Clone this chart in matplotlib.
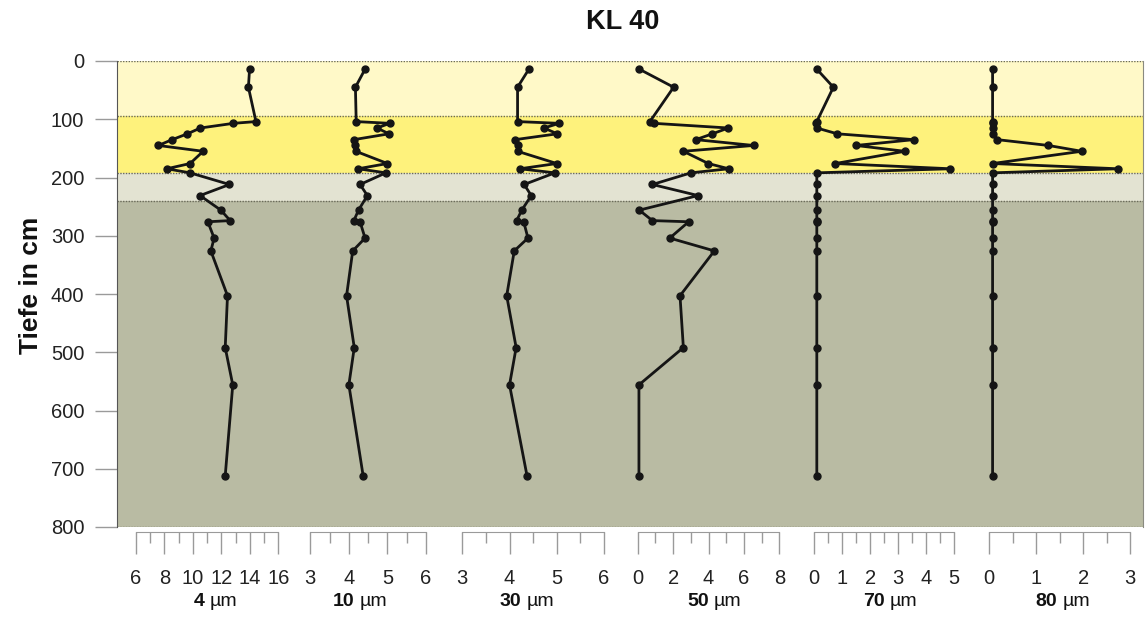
import matplotlib
matplotlib.use("Agg")
import matplotlib.pyplot as plt

plt.rcParams['font.family'] = ['Liberation Sans', 'DejaVu Sans']

# ---------------- data ----------------
title = "KL 40"
ylabel = "Tiefe in cm"

depth = [14, 45, 104, 107, 115, 125, 135, 145, 155, 176, 185, 192,
         212, 231, 256, 274, 276, 304, 326, 403, 492, 556, 712]

v4 = [13.98, 13.9, 14.43, 12.85, 10.53, 9.61, 8.54, 7.57, 10.72, 9.8, 8.16, 9.8,
      12.57, 10.5, 11.96, 12.62, 11.05, 11.49, 11.26, 12.43, 12.27, 12.8, 12.27]
v10 = [4.42, 4.17, 4.19, 5.06, 4.73, 5.04, 4.13, 4.17, 4.18, 5.0, 4.24, 4.96,
       4.29, 4.48, 4.25, 4.13, 4.29, 4.42, 4.10, 3.94, 4.14, 4.0, 4.37]
v30 = [4.41, 4.17, 4.17, 5.05, 4.73, 5.01, 4.12, 4.17, 4.17, 5.0, 4.22, 4.96,
       4.31, 4.46, 4.26, 4.15, 4.30, 4.39, 4.10, 3.94, 4.14, 4.0, 4.37]
v50 = [0.09, 2.03, 0.69, 0.92, 5.12, 4.22, 3.28, 6.55, 2.58, 3.99, 5.14, 3.01,
       0.83, 3.41, 0.09, 0.83, 2.88, 1.81, 4.33, 2.39, 2.58, 0.07, 0.07]
v70 = [0.1, 0.69, 0.1, 0.07, 0.1, 0.83, 3.56, 1.49, 3.24, 0.76, 4.86, 0.1,
       0.1, 0.1, 0.1, 0.1, 0.1, 0.1, 0.1, 0.1, 0.1, 0.1, 0.1]
v80 = [0.07, 0.07, 0.07, 0.07, 0.07, 0.07, 0.17, 1.26, 1.97, 0.07, 2.74, 0.07,
       0.07, 0.07, 0.07, 0.07, 0.07, 0.07, 0.07, 0.07, 0.07, 0.07, 0.07]

series = [v4, v10, v30, v50, v70, v80]
size_names = ["4", "10", "30", "50", "70", "80"]
x_ranges = [(6, 16), (3, 6), (3, 6), (0, 8), (0, 5), (0, 3)]
major_ticks = [[6, 8, 10, 12, 14, 16], [3, 4, 5, 6], [3, 4, 5, 6],
               [0, 2, 4, 6, 8], [0, 1, 2, 3, 4, 5], [0, 1, 2, 3]]
minor_ticks = [[7, 9, 11, 13, 15], [3.5, 4.5, 5.5], [3.5, 4.5, 5.5],
               [1, 3, 5, 7], [0.5, 1.5, 2.5, 3.5, 4.5], [0.5, 1.5, 2.5]]

band_edges = [0, 95, 193, 240, 800]
band_colors = ["#FFF9C8", "#FEF27C", "#E3E3D2", "#B9BBA3"]
y_ticks = [0, 100, 200, 300, 400, 500, 600, 700, 800]

# ---------------- layout ----------------
W, H = 1148, 619
fig = plt.figure(figsize=(W / 100, H / 100), dpi=100)


def fx(px):
    return px / W


L, R, T, B = 117, 1143, 61, 527
ax = fig.add_axes([fx(L), 1 - B / H, fx(R - L), (B - T) / H])
ax.set_ylim(800, 0)
ax.set_xlim(0, 1)
for i, c in enumerate(band_colors):
    ax.axhspan(band_edges[i], band_edges[i + 1], color=c, lw=0, zorder=0)
for e in band_edges:
    ax.axhline(e, color="#6a6a5a", lw=1.0, ls=(0, (1, 1)), zorder=1)
ax.set_yticks(y_ticks)
ax.set_xticks([])
ax.tick_params(axis="y", length=15.5, width=1, color="#9a9a9a", pad=8,
               labelsize=14.5, labelcolor="#222222")
for s in ["top", "bottom"]:
    ax.spines[s].set_visible(False)
ax.spines["left"].set_color("#555555")
ax.spines["right"].set_color("#8a8a80")
fig.text(fx(31), 1 - 285 / H, ylabel, rotation=90, ha="center", va="center",
         fontsize=19, fontweight="bold", color="#111111")
fig.text(fx(623), 1 - 22 / H, title, ha="center", va="center",
         fontsize=19.5, fontweight="bold", color="#111111")

panel_px = [(136, 278.3), (310.3, 426), (462.3, 604), (637.7, 779.3),
            (814, 954.3), (989.3, 1130)]
label_split = [207, 357, 524, 711, 887, 1060]

for k in range(6):
    x0, x1 = panel_px[k]
    pa = fig.add_axes([fx(x0), 1 - B / H, fx(x1 - x0), (B - T) / H])
    pa.patch.set_visible(False)
    pa.set_ylim(800, 0)
    pa.set_xlim(*x_ranges[k])
    pa.plot(series[k], depth, "-o", color="#151515", lw=2.0, ms=5,
            clip_on=False, zorder=5)
    for s in ["left", "right", "top"]:
        pa.spines[s].set_visible(False)
    pa.spines["bottom"].set_position(("outward", 3.6))
    pa.spines["bottom"].set_color("#9a9a9a")
    pa.set_yticks([])
    pa.set_xticks(major_ticks[k])
    pa.set_xticks(minor_ticks[k], minor=True)
    pa.tick_params(axis="x", which="major", length=15.8, width=1,
                   color="#9a9a9a", pad=10.5, labelsize=14.5, labelcolor="#222222")
    pa.tick_params(axis="x", which="minor", length=7.9, width=1,
                   color="#9a9a9a")
    sp = label_split[k]
    fig.text(fx(sp - 2.5), 1 - 602 / H, size_names[k], ha="right", va="center",
             fontsize=14, fontweight="bold", color="#111111")
    fig.text(fx(sp + 2.5), 1 - 602 / H, "µm", ha="left", va="center",
             fontsize=14, color="#111111")

fig.savefig("out.png", dpi=100)
